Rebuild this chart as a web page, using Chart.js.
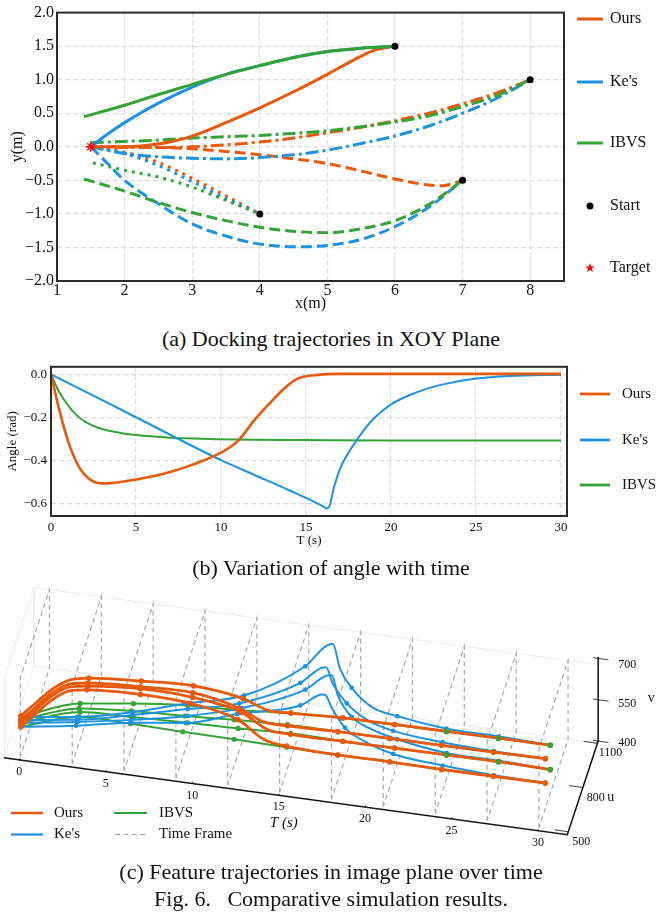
<!DOCTYPE html>
<html><head><meta charset="utf-8">
<script src="https://cdn.jsdelivr.net/npm/chart.js@4"></script>
<style>
html,body{margin:0;padding:0;background:#fff;}
body{width:657px;height:916px;position:relative;overflow:hidden;font-family:'Liberation Serif',serif;color:#111;}
canvas{position:absolute;left:0;}
.cap{position:absolute;left:0;width:662px;text-align:center;font-size:22px;white-space:pre;line-height:24px;}
</style></head><body>
<canvas id="a" width="657" height="320" style="top:0px"></canvas>
<canvas id="b" width="657" height="225" style="top:355px"></canvas>
<canvas id="c" width="657" height="285" style="top:575px"></canvas>
<div class="cap" style="top:327px">(a) Docking trajectories in XOY Plane</div>
<div class="cap" style="top:556px">(b) Variation of angle with time</div>
<div class="cap" style="top:860px">(c) Feature trajectories in image plane over time</div>
<div class="cap" style="top:887px">Fig. 6.   Comparative simulation results.</div>
<script>
const COL={ours:'#e8590c',kes:'#1c92e3',ibvs:'#34a336'};
const SERIF="'Liberation Serif'";
/* ---------- panel (a) ---------- */
const xTicksA=[1,2,3,4,5,6,7,8];
const yTicksA=[-2,-1.5,-1,-0.5,0,0.5,1,1.5,2];
const oursSolid=[[1.5,0],[2,0.0],[2.4,.03],[2.7,.08],[3,.16],[3.5,.36],[4,.58],[4.5,.82],[5,1.08],[5.4,1.3],[5.7,1.44],[6,1.5]];
const kesSolid=[[1.5,0],[1.75,.19],[2,.36],[2.5,.65],[3,.89],[3.5,1.08],[4,1.21],[4.5,1.33],[5,1.42],[5.5,1.47],[6,1.5]];
const ibvsSolid=[[1.4,.45],[2,.62],[2.5,.78],[3,.93],[3.5,1.08],[4,1.21],[4.5,1.33],[5,1.42],[5.5,1.47],[6,1.5]];
const oursDashDot=[[1.5,0],[2,-.01],[2.5,-.01],[3,0],[3.5,.03],[4,.07],[4.5,.13],[5,.21],[5.5,.29],[6,.39],[6.5,.5],[7,.64],[7.5,.8],[8,1]];
const kesDashDot=[[1.5,0],[2,-.1],[2.5,-.15],[3,-.17],[3.5,-.18],[4,-.16],[4.5,-.12],[5,-.05],[5.5,.05],[6,.16],[6.5,.31],[7,.5],[7.5,.72],[8,1]];
const ibvsDashDot=[[1.5,.06],[2,.08],[2.5,.1],[3,.13],[3.5,.15],[4,.17],[4.5,.2],[5,.24],[5.5,.3],[6,.37],[6.5,.46],[7,.6],[7.5,.76],[8,1]];
const oursDashed=[[1.5,0],[2,0],[2.5,-.01],[3,-.03],[3.5,-.07],[4,-.12],[4.5,-.18],[5,-.25],[5.5,-.36],[6,-.48],[6.5,-.57],[6.7,-.58],[6.85,-.55],[7,-.5]];
const kesDashed=[[1.5,0],[1.75,-.25],[2,-.5],[2.5,-.85],[3,-1.15],[3.5,-1.33],[4,-1.45],[4.5,-1.49],[5,-1.47],[5.5,-1.38],[6,-1.19],[6.5,-.9],[7,-.5]];
const ibvsDashed=[[1.4,-.48],[2,-.66],[2.5,-.83],[3,-.98],[3.5,-1.1],[4,-1.2],[4.5,-1.26],[5,-1.28],[5.5,-1.22],[6,-1.1],[6.5,-.86],[7,-.5]];
const oursDotted=[[1.5,0],[2,-.08],[2.5,-.23],[3,-.47],[3.5,-.73],[4,-1]];
const kesDotted=[[1.5,0],[2,-.1],[2.5,-.28],[3,-.52],[3.5,-.77],[4,-1]];
const ibvsDotted=[[1.53,-.24],[2,-.35],[2.5,-.45],[3,-.6],[3.5,-.8],[4,-1]];
const startPoints=[[6,1.5],[8,1],[7,-.5],[4,-1]];
const targetPoint=[[1.5,0]];
/* ---------- panel (b) ---------- */
const xTicksB=[0,5,10,15,20,25,30];
const yTicksB=[-0.6,-0.4,-0.2,0];
const oursAngle=[[0,0],[.5,-.17],[1,-.31],[1.5,-.41],[2,-.47],[2.5,-.5],[3,-.508],[3.5,-.507],[4,-.503],[5,-.49],[6,-.475],[7,-.455],[8,-.43],[9,-.4],[10,-.365],[11,-.31],[12,-.21],[12.8,-.14],[13.8,-.06],[14.5,-.02],[15.5,-.004],[17,.002],[20,.002],[30,.002]];
const kesAngle=[[0,0],[5,-.2],[10,-.4],[12,-.47],[14,-.54],[16,-.615],[16.2,-.625],[16.4,-.61],[16.6,-.54],[17,-.44],[17.5,-.365],[18,-.305],[18.5,-.25],[19,-.205],[19.5,-.17],[20,-.14],[21,-.1],[22,-.07],[23,-.048],[25,-.02],[27,-.008],[30,-.002]];
const ibvsAngle=[[0,0],[.25,-.045],[.5,-.085],[1,-.145],[1.5,-.19],[2,-.22],[2.5,-.24],[3,-.255],[4,-.272],[5,-.283],[6,-.29],[7,-.295],[8,-.298],[10,-.303],[15,-.306],[20,-.308],[30,-.308]];
/* ---------- panel (c) ---------- */
const frameTimes=[0,3,6,9,12,15,18,21,24,27,30];
const tTicks=[0,5,10,15,20,25,30];
const uTicks=[500,800,1100];
const vTicks=[400,550,700];
const oursT=[0,.7,1.4,2.2,3,6,9,12,13.5,15,18,21,24,27,30];
const oursU1=[510,586,660,760,846,856,866,815,790,724,734,734,734,734,734];
const oursV1=[550,566,581,568,533,543,546,553,536,576,579,581,582,583,583];
const oursU2=[510,580,650,745,825,836,846,734,708,663,632,632,632,632,632];
const oursV2=[535,553,571,560,526,532,531,562,538,562,584,585,586,587,589];
const oursU3=[510,580,650,745,825,836,846,775,790,724,734,734,734,734,734];
const oursV3=[524,541,560,549,514,525,513,524,462,495,490,491,492,493,490];
const oursU4=[510,575,640,730,805,836,805,714,708,642,632,632,632,632,632];
const oursV4=[509,529,549,542,511,503,513,529,471,496,495,496,494,495,496];
const kesT=[0,3,6,9,12,15,16,16.2,17,18,19.5,21,24,27,30];
const kesU1=[510,602,673,744,836,1029,1181,1171,1029,917,810,785,734,744,734];
const kesV1=[546,522,527,548,553,583,591,599,593,591,590,584,592,584,583];
const kesU2=[510,602,673,744,734,927,1039,1029,886,815,708,703,653,642,632];
const kesV2=[535,511,516,526,580,577,582,590,614,589,599,574,586,585,589];
const kesU3=[510,602,653,744,795,1029,1161,1151,988,917,810,785,734,744,734];
const kesV3=[524,503,509,500,528,494,484,491,512,480,505,496,499,491,490];
const kesU4=[510,581,632,703,693,927,1019,1008,866,775,647,703,653,642,632];
const kesV4=[509,500,510,496,563,491,490,497,533,519,552,486,497,493,496];
const ibvsT=[0,3,6,9,12,15,18,21,24,27,30];
const ibvsU1=[510,663,693,744,754,744,714,734,734,734,734];
const ibvsV1=[546,539,549,540,543,565,590,580,581,582,583];
const ibvsU2=[510,642,653,683,632,663,632,632,632,632,632];
const ibvsV2=[535,532,543,534,575,566,584,585,586,587,589];
const ibvsU3=[510,663,693,744,714,724,734,734,734,734,734];
const ibvsV3=[524,506,497,474,496,499,490,491,492,493,490];
const ibvsU4=[510,642,632,642,632,642,632,632,632,632,632];
const ibvsV4=[509,499,506,497,501,492,495,496,494,495,496];

const pts=a=>a.map(p=>({x:p[0],y:p[1]}));
const fmt=v=>String(v).replace('-','\u2212');
const fixed1=v=>Number(v).toFixed(1).replace('-','\u2212');

function legendPlugin(items){return{id:'sideLegend',afterDraw(ch){
  const c=ch.ctx;c.save();
  items.forEach(it=>{
    if(it.color&&!it.marker){c.strokeStyle=it.color;c.lineWidth=it.lw;c.setLineDash(it.dash||[]);
      c.beginPath();c.moveTo(it.x0,it.y);c.lineTo(it.x1,it.y);c.stroke();c.setLineDash([]);}
    if(it.marker==='circle'){c.fillStyle=it.color;c.beginPath();c.arc((it.x0+it.x1)/2,it.y,3.5,0,7);c.fill();}
    if(it.marker==='star'){const X=(it.x0+it.x1)/2,Y=it.y,R=5;c.fillStyle=it.color;c.beginPath();
      for(let i=0;i<10;i++){const r=i%2?R*.4:R,a=-Math.PI/2+i*Math.PI/5;c.lineTo(X+r*Math.cos(a),Y+r*Math.sin(a));}
      c.closePath();c.fill();}
    c.fillStyle='#111';c.font=it.font;c.textAlign='left';c.textBaseline='middle';c.fillText(it.text,it.tx,it.y);
  });c.restore();}};}
const framePlugin={id:'frameBox',afterDatasetsDraw(ch){const a=ch.chartArea,c=ch.ctx;c.save();c.strokeStyle='#2b2b2b';c.lineWidth=2;
  c.strokeRect(a.left,a.top,a.right-a.left,a.bottom-a.top);c.restore();}};
const gridOpt={color:'#dcdcdc',lineWidth:1.2,drawTicks:false};
function axis(min,max,ticks,fs,title,titleFs,size,cb,pad,isY,titlePad){return{
  type:'linear',min,max,afterBuildTicks(s){s.ticks=ticks.map(v=>({value:v}));},
  grid:gridOpt,border:{display:false,dash:[5,3]},
  ticks:{font:{family:SERIF,size:fs},color:'#111',padding:pad,maxRotation:0,autoSkip:false,callback:cb},
  title:{display:true,text:title,font:{family:SERIF,size:titleFs},color:'#111',padding:titlePad},
  afterFit(s){if(isY)s.width=size;else s.height=size;}
};}
const lineDs=(label,data,color,lw,dash)=>({label,data:pts(data),borderColor:color,borderWidth:lw,borderDash:dash||[],
  pointRadius:0,cubicInterpolationMode:'monotone',fill:false,clip:false});

/* ---- chart a ---- */
const DASH=[11,5],DD=[13,4,3,4],DOT=[3,5],LWA=3;
const dsA=[
 lineDs('Ours',oursDotted,COL.ours,LWA,DOT),lineDs("Ke's",kesDotted,COL.kes,LWA,DOT),lineDs('IBVS',ibvsDotted,COL.ibvs,LWA,DOT),
 lineDs('Ours',oursDashed,COL.ours,LWA,DASH),lineDs("Ke's",kesDashed,COL.kes,LWA,DASH),lineDs('IBVS',ibvsDashed,COL.ibvs,LWA,DASH),
 lineDs('Ours',oursDashDot,COL.ours,LWA,DD),lineDs("Ke's",kesDashDot,COL.kes,LWA,DD),lineDs('IBVS',ibvsDashDot,COL.ibvs,LWA,DD),
 lineDs('Ours',oursSolid,COL.ours,LWA),lineDs("Ke's",kesSolid,COL.kes,LWA),lineDs('IBVS',ibvsSolid,COL.ibvs,LWA),
 {label:'Start',data:pts(startPoints),showLine:false,pointRadius:3.5,pointBackgroundColor:'#000',pointBorderWidth:0,clip:false},
 {label:'Target',data:pts(targetPoint),showLine:false,pointStyle:'star',pointRadius:5,pointBorderColor:'#f00',pointBorderWidth:1.5,clip:false}
].map((d,i)=>({...d,order:-i}));
const fA='16px '+SERIF;
new Chart(document.getElementById('a'),{type:'line',
 data:{datasets:dsA},
 options:{responsive:false,animation:false,events:[],
  layout:{padding:{left:0,top:10,right:93,bottom:0}},
  plugins:{legend:{display:false},tooltip:{enabled:false}},
  scales:{x:axis(1,8.5,xTicksA,16,'x(m)',16,39,fmt,0,false,{top:0,bottom:7}),y:axis(-2,2,yTicksA,16,'y(m)',16,57,fixed1,3,true,{top:8,bottom:0})}},
 plugins:[framePlugin,legendPlugin([
  {text:'Ours',color:COL.ours,lw:3,x0:577,x1:603,y:19,tx:610,font:fA},
  {text:"Ke's",color:COL.kes,lw:3,x0:577,x1:603,y:82,tx:610,font:fA},
  {text:'IBVS',color:COL.ibvs,lw:3,x0:577,x1:603,y:143,tx:610,font:fA},
  {text:'Start',color:'#000',marker:'circle',x0:577,x1:603,y:206,tx:610,font:fA},
  {text:'Target',color:'#f00',marker:'star',x0:577,x1:603,y:268,tx:610,font:fA}])]
});

/* ---- chart b ---- */
const fB='15px '+SERIF;
new Chart(document.getElementById('b'),{type:'line',
 data:{datasets:[lineDs('Ours',oursAngle,COL.ours,2.6),lineDs("Ke's",kesAngle,COL.kes,2),lineDs('IBVS',ibvsAngle,COL.ibvs,2)].map((d,i)=>({...d,order:[1,2,3][i]}))},
 options:{responsive:false,animation:false,events:[],
  layout:{padding:{left:0,top:11,right:90,bottom:0}},
  plugins:{legend:{display:false},tooltip:{enabled:false}},
  scales:{x:axis(0,30.35,xTicksB,13,'T (s)',13,64,fmt,4,false,{top:0,bottom:32}),y:axis(-0.66,0.035,yTicksB,13,'Angle (rad)',13,51,fixed1,4,true,{top:5,bottom:0})}},
 plugins:[framePlugin,legendPlugin([
  {text:'Ours',color:COL.ours,lw:2.8,x0:580,x1:610,y:39,tx:622,font:fB},
  {text:"Ke's",color:COL.kes,lw:2.8,x0:580,x1:610,y:85,tx:622,font:fB},
  {text:'IBVS',color:COL.ibvs,lw:2.8,x0:580,x1:610,y:130,tx:622,font:fB}])]
});

/* ---- chart c: a 3-D (T,u,v) box projected onto the page plane ---- */
const proj=(T,u,v)=>({x:16.5+17.5*T+29.5*(u-500)/600,y:758+2.43*T-91*(u-500)/600-81*(v-400)/300});
const TA=-0.9,TB=31.7,UA=480,UB=1115;
const seg=(arr,style,order)=>({data:arr.map(p=>proj(p[0],p[1],p[2])),borderColor:style.c,borderWidth:style.w,borderDash:style.d||[],pointRadius:0,tension:0,order,clip:false});
const dsC=[];
const WALL={c:'#ececec',w:1};
dsC.push(seg([[TA,500,400],[TA,500,700],[TA,1100,700],[TB,1100,700]],WALL,100));
dsC.push(seg([[TA,1100,700],[TA,1100,400],[TB,1100,400]],WALL,100));
dsC.push(seg([[TA,500,400],[TA,1100,400]],WALL,100));
frameTimes.forEach(t=>dsC.push(seg([[t,500,400],[t,500,700],[t,1100,700],[t,1100,400],[t,500,400]],{c:'#a9a9a9',w:1.2,d:[5,3.5]},90)));
const AX={c:'#111',w:1.5};
dsC.push(seg([[TA,UA,400],[TB,UA,400],[TB,UB,400],[TB,UB,720]],AX,80));
tTicks.forEach(t=>dsC.push(seg([[t,UA,400],[t,UA+12,400]],{c:'#111',w:.8},80)));
uTicks.forEach(u=>dsC.push(seg([[TB-.8,u,400],[TB,u,400]],{c:'#111',w:.8},80)));
vTicks.forEach(v=>dsC.push(seg([[TB-.3,UB,v+(v-400)*.05],[TB+.6,UB,v+(v-400)*.05]],{c:'#111',w:.8},80)));
function curve(Ts,Us,Vs,color,lw,order,r,label){return{label,data:Ts.map((t,i)=>proj(t,Us[i],Vs[i])),borderColor:color,backgroundColor:color,pointBackgroundColor:color,pointBorderWidth:0,
  borderWidth:lw,pointRadius:c=>Number.isInteger(Ts[c.dataIndex]/3)?r:0,cubicInterpolationMode:'monotone',order,clip:false};}
[[ibvsU1,ibvsV1],[ibvsU2,ibvsV2],[ibvsU3,ibvsV3],[ibvsU4,ibvsV4]].forEach(a=>dsC.push(curve(ibvsT,a[0],a[1],COL.ibvs,2,30,2.6,'IBVS')));
[[kesU1,kesV1],[kesU2,kesV2],[kesU3,kesV3],[kesU4,kesV4]].forEach(a=>dsC.push(curve(kesT,a[0],a[1],COL.kes,2,20,2.4,"Ke's")));
[[oursU1,oursV1],[oursU2,oursV2],[oursU3,oursV3],[oursU4,oursV4]].forEach(a=>dsC.push(curve(oursT,a[0],a[1],COL.ours,2.8,10,2.8,'Ours')));
[[ibvsU1,ibvsV1],[ibvsU3,ibvsV3]].forEach(a=>{const idx=[8,9,10];dsC.push({data:idx.map(i=>proj(ibvsT[i],a[0][i],a[1][i])),showLine:false,pointRadius:2.8,pointBackgroundColor:COL.ibvs,pointBorderWidth:0,order:5,clip:false});});
const tickText={id:'tickText',afterDraw(ch){const c=ch.ctx,sx=ch.scales.x,sy=ch.scales.y;c.save();c.fillStyle='#111';c.textAlign='center';c.textBaseline='middle';
  const put=(p,dx,dy,t,f)=>{c.font=f;c.fillText(t,sx.getPixelForValue(p.x)+dx,sy.getPixelForValue(p.y)+dy);};
  const f12='12px '+SERIF,f13='14px '+SERIF;
  tTicks.forEach(t=>put(proj(t,UA,400),0,12,String(t),f12));
  uTicks.forEach(u=>put(proj(TB,u,400),13,10,String(u),f12));
  vTicks.forEach(v=>put(proj(TB,UB,v),29,2,String(v),f12));
  put(proj(15.3,UA,400),0,27,'T (s)','italic 15px '+SERIF);
  put(proj(TB,800,400),28,10,'u',f13);
  put(proj(TB,UB,550),53,-3,'v',f13);
  c.restore();}};
const fC='15px '+SERIF;
const LC=[
  {text:'Ours',color:COL.ours,lw:2.5,x0:11,x1:43,y:238,tx:54,font:fC},
  {text:"Ke's",color:COL.kes,lw:2.2,x0:11,x1:43,y:259.5,tx:54,font:fC},
  {text:'IBVS',color:COL.ibvs,lw:2.2,x0:114,x1:147,y:238,tx:159,font:fC},
  {text:'Time Frame',color:'#9a9a9a',lw:1.2,dash:[5,3.5],x0:115,x1:147,y:259.5,tx:159,font:fC}];
new Chart(document.getElementById('c'),{type:'line',
 data:{datasets:dsC},
 options:{responsive:false,animation:false,events:[],
  layout:{padding:0},
  plugins:{legend:{display:false},tooltip:{enabled:false}},
  scales:{x:{type:'linear',display:false,min:0,max:657},y:{type:'linear',display:false,min:575,max:860,reverse:true}}},
 plugins:[tickText,legendPlugin(LC)]
});
</script>
</body></html>
